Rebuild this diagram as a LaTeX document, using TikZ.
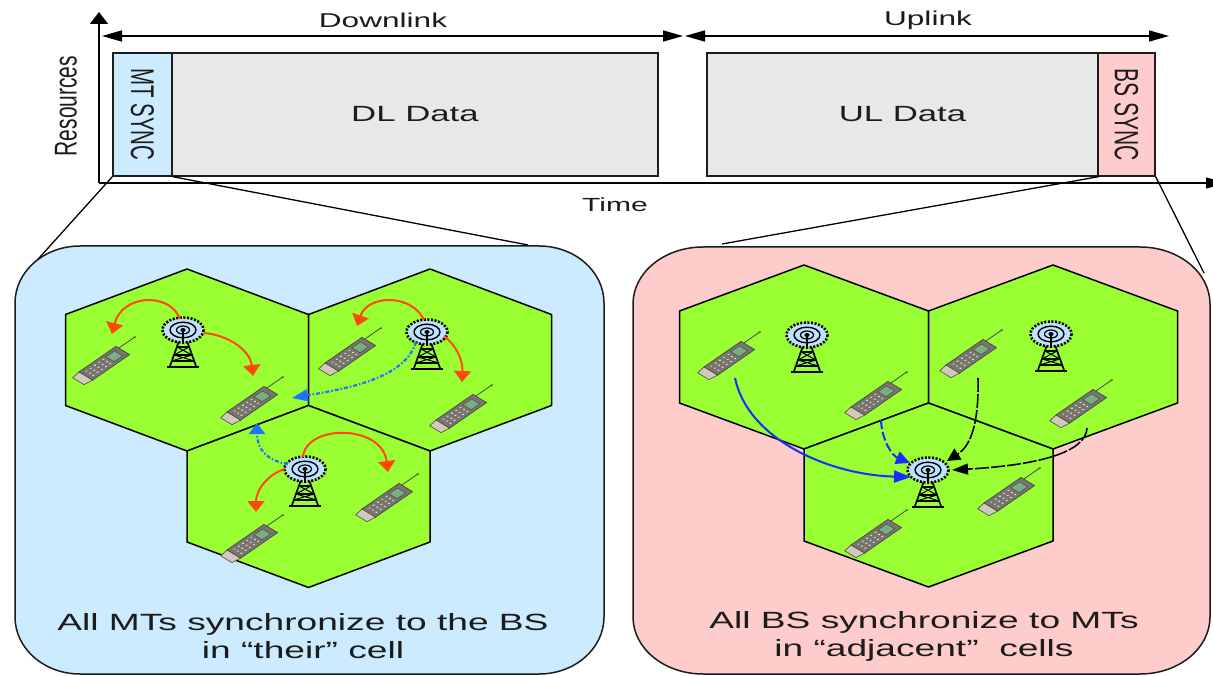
\documentclass[tikz,border=0pt]{standalone}
\usepackage{fontspec}
\usetikzlibrary{arrows.meta,calc}
\setmainfont{Liberation Sans}
\newfontfamily\widesans{Liberation Sans}[FakeStretch=1.58]

\definecolor{ink}{RGB}{28,28,28}
\definecolor{cellblue}{RGB}{204,235,255}
\definecolor{cellpink}{RGB}{255,204,204}
\definecolor{datagray}{RGB}{232,232,232}
\definecolor{hexgreen}{RGB}{153,255,51}
\definecolor{headblue}{RGB}{190,225,255}
\definecolor{syncred}{RGB}{255,72,10}
\definecolor{xblue}{RGB}{30,115,255}
\definecolor{ulblue}{RGB}{25,45,255}
\definecolor{phonegray}{RGB}{120,117,110}
\definecolor{phoneedge}{RGB}{75,72,68}
\definecolor{phonebeige}{RGB}{210,200,188}
\definecolor{phonescreen}{RGB}{120,175,130}

% hexagonal cell: centre x, centre y, half width, vertex radius
\newcommand\hexcell[4]{%
  \draw[hex] ({#1},{#2-#4}) -- ({#1+#3},{#2-#4/2}) -- ({#1+#3},{#2+#4/2})
    -- ({#1},{#2+#4}) -- ({#1-#3},{#2+#4/2}) -- ({#1-#3},{#2-#4/2}) -- cycle;}

\tikzset{
  block/.style={draw=ink, line width=1.3pt, inner sep=0pt, text=ink,
    minimum height=123pt},
  lbl/.style={text=ink, inner sep=0pt},
  caption/.style={text=ink, inner sep=0pt, align=center,
    font=\widesans\fontsize{23.5}{28}\selectfont},
  hex/.style={draw=black, line width=1.5pt, fill=hexgreen, line join=round},
  panel/.style={draw=ink, line width=1.5pt},
  zoomline/.style={draw=black, line width=1.3pt},
  redarr/.style={draw=syncred, line width=2pt,
    -{Triangle[length=11pt,width=17pt]}},
  bluedd/.style={draw=xblue, line width=2.2pt,
    dash pattern=on 4pt off 2pt on 1.5pt off 2pt},
  pics/bstower/.style={code={
    % lattice mast
    \draw[line width=1.7pt] (-4,11) -- (-13,36) (4,11) -- (13,36);
    \draw[line width=1.3pt] (-6,17) -- (6,17) (-9,25) -- (9,25) (-11.5,31) -- (11.5,31);
    \draw[line width=1pt] (-6,17) -- (9,25) (6,17) -- (-9,25)
      (-9,25) -- (11.5,31) (9,25) -- (-11.5,31);
    \draw[line width=2.6pt] (-16,37) -- (16,37);
    % radiating head
    \fill[headblue] (0,0) ellipse[x radius=20, y radius=12];
    \draw[line width=2.6pt, dash pattern=on 2pt off 1.6pt] (0,0) ellipse[x radius=20.5, y radius=12.5];
    \draw[line width=1.4pt] (0,0) ellipse[x radius=13, y radius=7.8];
    \draw[line width=1.2pt] (0,0) ellipse[x radius=6.5, y radius=4];
    \fill (0,0) ellipse[x radius=2.6, y radius=2];
    \draw[line width=1.6pt] (0,1) -- (0,12);
  }},
  pics/mobile/.style={code={
    \begin{scope}[xscale=1.55, rotate=47]
      \draw[line width=0.8pt, phoneedge] (12,-3.5) -- (28,-3.5);
      \fill[phoneedge] (28,-3.5) circle[radius=0.9];
      \draw[fill=phonegray, draw=phoneedge, line width=0.7pt] (-22,-6) rectangle (13,6);
      \draw[fill=phonebeige, draw=phoneedge, line width=0.6pt]
        (-29,-5) -- (-22,-6) -- (-22,6) -- (-29,5) -- cycle;
      \fill[phonescreen] (1,-3.6) rectangle (9,3.6);
      \draw[phoneedge, line width=0.5pt] (1,-3.6) rectangle (9,3.6);
      \foreach \u in {-18,-14,-10,-6,-2}
        \foreach \v in {-3,0,3}
          \fill[gray!30] (\u,\v) circle[radius=0.8];
    \end{scope}
  }},
}

\begin{document}
\begin{tikzpicture}[x=1pt, y=-1pt]
\useasboundingbox (0,0) rectangle (1213,676);

% ---------- frame structure ----------
\node[block, fill=cellblue, minimum width=59pt] (mtsync) at (142.5,114.5)
  {\fontsize{20.5}{22}\selectfont\rotatebox{-90}{\scalebox{1}[1.6]{MT SYNC}}};
\node[block, fill=datagray, minimum width=486pt] (dldata) at (415,114.5)
  {\widesans\fontsize{22}{24}\selectfont DL Data};
\node[block, fill=datagray, minimum width=391pt] (uldata) at (902.5,114.5)
  {\widesans\fontsize{22}{24}\selectfont UL Data};
\node[block, fill=cellpink, minimum width=57pt] (bssync) at (1126.5,114.5)
  {\fontsize{21}{22}\selectfont\rotatebox{-90}{\scalebox{1}[1.6]{BS SYNC}}};

% axes
\coordinate (origin) at (99,183);
\coordinate (ytop) at (99,12);
\coordinate (xend) at (1226,183);
\draw[line width=1.4pt, -{Triangle[length=12pt,width=18pt]}] (origin) -- (ytop);
\draw[line width=1.4pt, -{Triangle[length=20pt,width=11pt]}] (origin) -- (xend);
\node[lbl, rotate=90] (res) at (66,106)
  {\fontsize{21}{22}\selectfont\scalebox{1}[1.5]{Resources}};
\node[lbl] (time) at (615,205) {\widesans\fontsize{19}{22}\selectfont Time};

% downlink / uplink spans
\coordinate (dlA) at (102,36);
\coordinate (dlB) at (683,36);
\coordinate (ulA) at (685,36);
\coordinate (ulB) at (1169,36);
\draw[line width=1.4pt, {Triangle[length=20pt,width=11pt]}-{Triangle[length=20pt,width=11pt]}] (dlA) -- (dlB);
\draw[line width=1.4pt, {Triangle[length=20pt,width=11pt]}-{Triangle[length=20pt,width=11pt]}] (ulA) -- (ulB);
\node[lbl] (dllbl) at (383,20) {\widesans\fontsize{20}{22}\selectfont Downlink};
\node[lbl] (ullbl) at (928,20) {\widesans\fontsize{20}{22}\selectfont Uplink};

% ---------- zoom-out panels ----------
\coordinate (lpA) at (31,267);
\coordinate (lpB) at (528,245);
\coordinate (rpA) at (722,244);
\coordinate (rpB) at (1204,273);
\draw[zoomline] (mtsync.south west) -- (lpA);
\draw[zoomline] (mtsync.south east) -- (lpB);
\draw[zoomline] (uldata.south east) -- (rpA);
\draw[zoomline] (bssync.south east) -- (rpB);

\draw[panel, fill=cellblue] (80,246) -- (539,246)
  arc[start angle=-90, end angle=0, x radius=65, y radius=57] -- (604,617)
  arc[start angle=0, end angle=90, x radius=65, y radius=57] -- (80,674)
  arc[start angle=90, end angle=180, x radius=65, y radius=57] -- (15,303)
  arc[start angle=180, end angle=270, x radius=65, y radius=57] -- cycle;
\draw[panel, fill=cellpink] (703,247) -- (1140,247)
  arc[start angle=-90, end angle=0, x radius=70, y radius=57] -- (1210,617)
  arc[start angle=0, end angle=90, x radius=70, y radius=57] -- (703,674)
  arc[start angle=90, end angle=180, x radius=70, y radius=57] -- (633,304)
  arc[start angle=180, end angle=270, x radius=70, y radius=57] -- cycle;

% cells
\hexcell{187}{360}{121.5}{91}
\hexcell{430}{360}{121.5}{91}
\hexcell{308.5}{496.5}{121.5}{91}
\hexcell{804}{357}{124.5}{92}
\hexcell{1053}{357}{124.5}{92}
\hexcell{928.5}{495}{124.5}{92}

% mobile terminals
\coordinate (mA1) at (109,360);
\coordinate (mA2) at (257,400);
\coordinate (mB1) at (355,351);
\coordinate (mB2) at (466,408);
\coordinate (mC1) at (257,538);
\coordinate (mC2) at (392,497);
\coordinate (mD1) at (734,355);
\coordinate (mD2) at (881,395);
\coordinate (mE1) at (976,353);
\coordinate (mE2) at (1086,403);
\coordinate (mF1) at (881,533);
\coordinate (mF2) at (1014,491);
\pic at (mA1) {mobile};
\pic at (mA2) {mobile};
\pic at (mB1) {mobile};
\pic at (mB2) {mobile};
\pic at (mC1) {mobile};
\pic at (mC2) {mobile};
\pic at (mD1) {mobile};
\pic at (mD2) {mobile};
\pic at (mE1) {mobile};
\pic at (mE2) {mobile};
\pic at (mF1) {mobile};
\pic at (mF2) {mobile};

% base stations
\coordinate (bsA) at (183,330);
\coordinate (bsB) at (427,332);
\coordinate (bsC) at (305,469);
\coordinate (bsD) at (807,335);
\coordinate (bsE) at (1051,334);
\coordinate (bsF) at (928,470);
\pic at (bsA) {bstower};
\pic at (bsB) {bstower};
\pic at (bsC) {bstower};
\pic at (bsD) {bstower};
\pic at (bsE) {bstower};
\pic at (bsF) {bstower};

% ---------- downlink sync: BS to own MTs ----------
\coordinate (r1s) at (180,319); \coordinate (r1e) at (112,334);
\coordinate (r2s) at (204,333); \coordinate (r2e) at (253,376);
\coordinate (r3s) at (424,320); \coordinate (r3e) at (357,326);
\coordinate (r4s) at (444,336); \coordinate (r4e) at (462,382);
\coordinate (r5s) at (303,457); \coordinate (r5e) at (388,472);
\coordinate (r6s) at (285,469); \coordinate (r6e) at (256,512);
\draw[redarr] (r1s) .. controls (170,292) and (122,294) .. (r1e);
\draw[redarr] (r2s) .. controls (228,335) and (250,350) .. (r2e);
\draw[redarr] (r3s) .. controls (412,294) and (368,294) .. (r3e);
\draw[redarr] (r4s) .. controls (456,345) and (463,360) .. (r4e);
\draw[redarr] (r5s) .. controls (306,424) and (382,424) .. (r5e);
\draw[redarr] (r6s) .. controls (268,474) and (256,490) .. (r6e);

% interference towards neighbouring cells
\coordinate (b1s) at (416,342); \coordinate (b1e) at (292,398);
\coordinate (b2s) at (288,464); \coordinate (b2e) at (257,423);
\draw[bluedd, -{Triangle[length=16pt,width=12pt]}] (b1s) .. controls (405,378) and (350,388) .. (b1e);
\draw[bluedd, -{Triangle[length=11pt,width=16pt]}] (b2s) .. controls (268,461) and (257,450) .. (b2e);

% ---------- uplink sync: MTs of adjacent cells to BS ----------
\coordinate (u1s) at (735,378); \coordinate (u1e) at (911,477);
\coordinate (u2s) at (881,420); \coordinate (u2e) at (910,463);
\coordinate (k1s) at (978,378); \coordinate (k1e) at (947,461);
\coordinate (k2s) at (1087,428); \coordinate (k2e) at (952,470);
\draw[ulblue, line width=2pt, -{Triangle[length=17pt,width=12pt]}]
  (u1s) .. controls (748,440) and (830,475) .. (u1e);
\draw[ulblue, line width=2pt, dash pattern=on 9pt off 3pt, -{Triangle[length=14pt,width=13pt]}]
  (u2s) .. controls (882,442) and (893,456) .. (u2e);
\draw[black, line width=1.6pt, dash pattern=on 14pt off 2pt, -{Triangle[length=13pt,width=13pt]}]
  (k1s) .. controls (979,420) and (972,445) .. (k1e);
\draw[black, line width=1.6pt, dash pattern=on 14pt off 2pt, -{Triangle[length=16pt,width=11pt]}]
  (k2s) .. controls (1086,452) and (1040,465) .. (k2e);

% captions
\node[caption] (capL) at (303,636) {All MTs synchronize to the BS\\in “their” cell};
\node[caption] (capR) at (924,636) {All BS synchronize to MTs\\in “adjacent”\ \ cells};
\end{tikzpicture}
\end{document}
